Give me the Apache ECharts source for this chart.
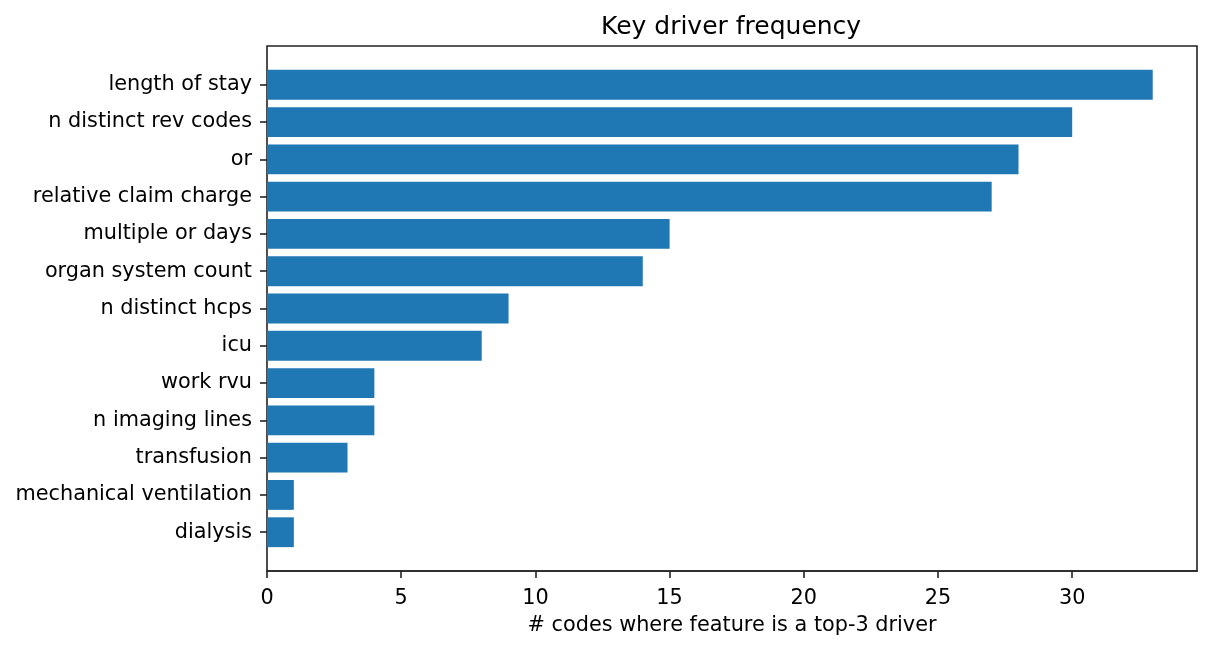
<!DOCTYPE html>
<html><head><meta charset="utf-8">
<script src="https://cdn.jsdelivr.net/npm/echarts@6/dist/echarts.min.js"></script>
<style>html,body{margin:0;padding:0;background:#fff}#c{width:1211px;height:649px}</style>
</head><body><div id="c"></div>
<script>
const categories = ["length of stay","n distinct rev codes","or","relative claim charge","multiple or days","organ system count","n distinct hcps","icu","work rvu","n imaging lines","transfusion","mechanical ventilation","dialysis"];
const counts = [33,30,28,27,15,14,9,8,4,4,3,1,1];
const xTicks = [0,5,10,15,20,25,30];
const title = "Key driver frequency";
const xName = "# codes where feature is a top-3 driver";

const FONT = "DejaVu Sans";
const xMax = 33 * 1.05;
// frame: left 267, right 1197, top 46, bottom 571
const L = 267, R = 1211 - 1197, T = 46, B = 649 - 571;
const plotH = 571 - 46;
const n = categories.length;
const unit = plotH / ((n - 1) + 0.8 + 2 * 0.05 * ((n - 1) + 0.8));
const pad = (plotH - n * unit) / 2;

const chart = echarts.init(document.getElementById('c'), null, {renderer: 'canvas'});
chart.setOption({
  animation: false,
  backgroundColor: '#fff',
  title: {text: title, left: 596, top: 10,
    textStyle: {fontFamily: FONT, fontSize: 25, fontWeight: 'normal', color: '#000'}},
  grid: [
    {left: L, right: R, top: T + pad, bottom: B + pad},
    {left: L, right: R, top: T, bottom: B, show: true, borderColor: '#222', borderWidth: 1.6, backgroundColor: 'transparent'}
  ],
  xAxis: [
    {gridIndex: 0, type: 'value', min: 0, max: xMax, show: false},
    {gridIndex: 1, type: 'value', min: 0, max: xMax, interval: 5,
      splitLine: {show: false},
      axisLine: {show: true, lineStyle: {color: '#222', width: 1.6}},
      axisTick: {show: true, length: 7, lineStyle: {color: '#222', width: 1.6}, customValues: xTicks},
      axisLabel: {fontFamily: FONT, fontSize: 20.8, color: '#000', margin: 17, customValues: xTicks},
      name: xName, nameLocation: 'middle', nameGap: 44,
      nameTextStyle: {fontFamily: FONT, fontSize: 20.8, color: '#000'}}
  ],
  yAxis: [
    {gridIndex: 0, type: 'category', data: categories, inverse: true,
      axisLine: {show: false},
      axisTick: {show: true, alignWithLabel: true, length: 7, lineStyle: {color: '#222', width: 1.6}},
      axisLabel: {fontFamily: FONT, fontSize: 20.8, color: '#000', margin: 15}},
    {gridIndex: 1, type: 'value', min: 0, max: 1, show: false}
  ],
  series: [{
    type: 'bar', xAxisIndex: 0, yAxisIndex: 0, data: counts,
    barWidth: '80%', itemStyle: {color: '#1f77b4'}
  }]
});
</script>
</body></html>
